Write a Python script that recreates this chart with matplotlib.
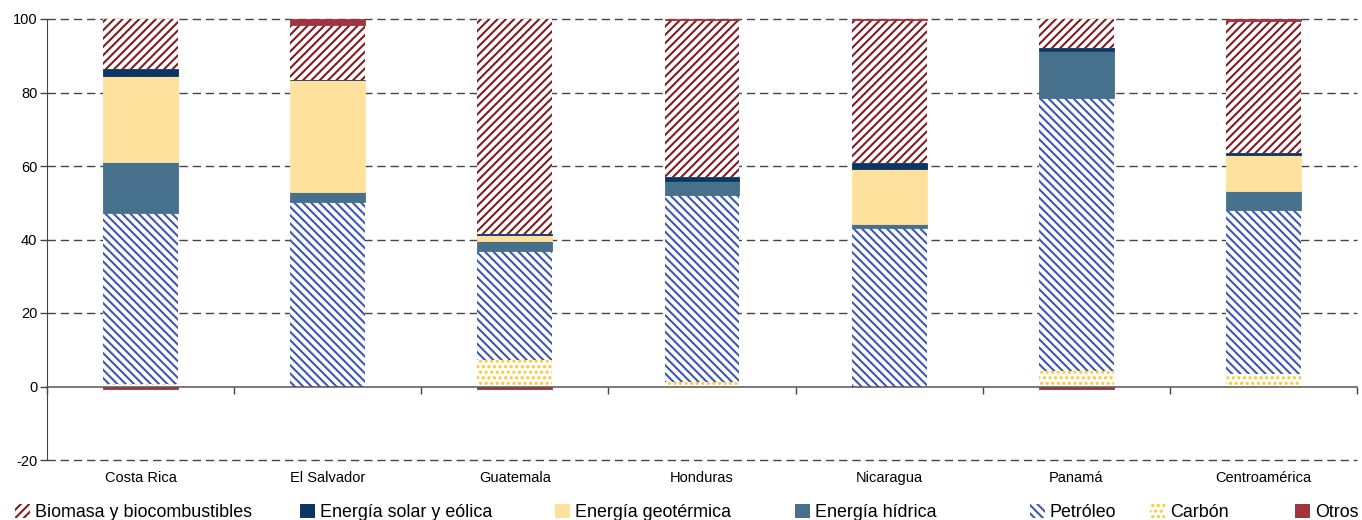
import numpy as np
import matplotlib
matplotlib.use("Agg")
import matplotlib.pyplot as plt
from matplotlib.patches import Patch

plt.rcParams['font.family'] = ['Liberation Sans', 'DejaVu Sans']
plt.rcParams['axes.unicode_minus'] = False
plt.rcParams['hatch.linewidth'] = 1.5

paises = ["Costa Rica", "El Salvador", "Guatemala", "Honduras",
          "Nicaragua", "Panamá", "Centroamérica"]

# participación (%) por fuente
carbon = [0.8, 0.0, 7.1, 1.2, 0.0, 4.1, 3.5]
petroleo = [46.3, 50.3, 29.9, 51.0, 43.2, 74.5, 44.5]
hidrica = [14.1, 2.5, 2.5, 3.8, 1.1, 12.7, 5.1]
geotermica = [23.2, 30.7, 1.6, 0.0, 14.8, 0.0, 9.9]
solar_eolica = [2.1, 0.0, 0.5, 1.0, 1.6, 0.9, 0.5]
biomasa = [13.5, 14.8, 58.4, 42.6, 38.9, 7.8, 36.0]
otros = [-0.7, 1.7, -0.7, 0.4, 0.4, -0.7, 0.5]

# (nombre, valores, color de relleno, color de trama, trama)
series = [
    ("Carbón", carbon, "white", "#FFC629", "..."),
    ("Petróleo", petroleo, "white", "#3F57B5", "\\\\\\\\"),
    ("Energía hídrica", hidrica, "#46708C", None, None),
    ("Energía geotérmica", geotermica, "#FFE19E", None, None),
    ("Energía solar y eólica", solar_eolica, "#0B3563", None, None),
    ("Biomasa y biocombustibles", biomasa, "white", "#821C22", "////"),
    ("Otros", otros, "#A23440", None, None),
]

fig = plt.figure(figsize=(13.62, 5.2), dpi=100)
ax = fig.add_axes([47 / 1362, 1 - 460 / 520, (1357 - 47) / 1362, (460 - 19) / 520])

x = np.arange(len(paises))
pos_base = np.zeros(len(paises))
neg_base = np.zeros(len(paises))
handles = {}
for name, vals, fc, hc, hatch in series:
    vals = np.array(vals, dtype=float)
    bottom = np.where(vals >= 0, pos_base, neg_base)
    if hatch:
        ax.bar(x, vals, 0.4, bottom=bottom, color=fc, edgecolor=hc,
               hatch=hatch, linewidth=0, zorder=3)
        handles[name] = Patch(facecolor=fc, edgecolor=hc, hatch=hatch, linewidth=0)
    else:
        ax.bar(x, vals, 0.4, bottom=bottom, color=fc, edgecolor=fc,
               linewidth=0.6, zorder=3)
        handles[name] = Patch(facecolor=fc, edgecolor=fc, linewidth=0)
    pos_base = pos_base + np.where(vals >= 0, vals, 0)
    neg_base = neg_base + np.where(vals < 0, vals, 0)

ax.set_xlim(-0.5, len(paises) - 0.5)
ax.set_ylim(-20, 100)
ax.set_yticks(np.arange(-20, 101, 20))
ax.tick_params(axis='y', length=5, width=1, color='#444444', labelsize=10.5, pad=2)

for v in [-20, 20, 40, 60, 80, 100]:
    ax.axhline(v, color='#444444', linewidth=1, linestyle=(0, (6, 3.5)),
               zorder=1, clip_on=False)

for s in ['top', 'right']:
    ax.spines[s].set_visible(False)
ax.spines['left'].set_color('#444444')
ax.spines['bottom'].set_position(('data', 0))
ax.spines['bottom'].set_color('#555555')
ax.spines['bottom'].set_linewidth(1.1)
ax.spines['bottom'].set_zorder(4)

ax.set_xticks(np.arange(-0.5, len(paises), 1.0))
ax.set_xticklabels([])
ax.tick_params(axis='x', which='major', length=5, width=1, color='#444444', direction='out')
ax.set_xticks(x, minor=True)
ax.set_xticklabels(paises, minor=True, fontsize=10.5)
ax.tick_params(axis='x', which='minor', length=0, pad=61)

legend_order = ["Biomasa y biocombustibles", "Energía solar y eólica",
                "Energía geotérmica", "Energía hídrica", "Petróleo", "Carbón", "Otros"]
legend_x = [15, 300, 555, 795, 1030, 1150, 1295]
for name, lx in zip(legend_order, legend_x):
    lg = fig.legend([handles[name]], [name], loc='center left',
                    bbox_to_anchor=(lx / 1362, 1 - 512.5 / 520), frameon=False,
                    fontsize=12.9, handlelength=0.85, handleheight=0.85,
                    handletextpad=0.25, borderpad=0, borderaxespad=0)

fig.savefig("out.png", dpi=100)
